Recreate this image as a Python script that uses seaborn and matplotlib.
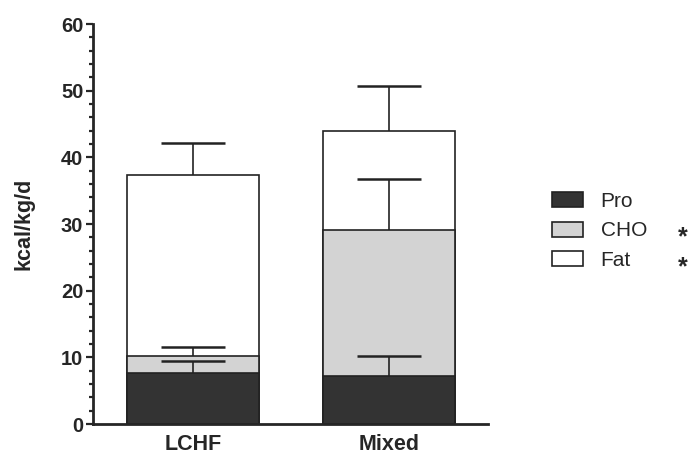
import matplotlib
matplotlib.use('Agg')
import matplotlib.pyplot as plt
from matplotlib.patches import Patch
from matplotlib.ticker import MultipleLocator
import numpy as np
import seaborn as sns

# Values (kcal/kg/d, mean + upper SEM)
diets = ['LCHF', 'Mixed']
components = ['Pro', 'CHO', 'Fat']
pro = [7.6, 7.2]
cho = [2.6, 21.9]
fat = [27.1, 14.8]
pro_err = [1.8, 3.0]
cho_err = [1.3, 7.6]
fat_err = [4.8, 6.8]
colors = ['#333333', '#d3d3d3', '#ffffff']
starred = ['CHO', 'Fat']

sns.set_style('ticks')
plt.rcParams['font.family'] = ['Liberation Sans', 'DejaVu Sans']

# cumulative tops for the stacked segments
top_pro = np.array(pro)
top_cho = top_pro + np.array(cho)
top_fat = top_cho + np.array(fat)
tops = [top_pro, top_cho, top_fat]
errs = [pro_err, cho_err, fat_err]

fig = plt.figure(figsize=(6.9, 4.57), dpi=100)
ax = fig.add_axes([93 / 690, 33 / 457, 395 / 690, 400 / 457])

# draw tallest first so lower segments sit on top
for top, col in zip(tops[::-1], colors[::-1]):
    sns.barplot(x=diets, y=top, color=col, saturation=1, width=0.67,
                edgecolor='#222222', linewidth=1.2, errorbar=None, ax=ax)

# upward-only error bars, drawn over the segments
xpos = np.arange(len(diets))
for top, err in zip(tops, errs):
    eb = ax.errorbar(xpos, top, yerr=[np.zeros(len(err)), err], fmt='none',
                     ecolor='#222222', elinewidth=1.2, capsize=23,
                     capthick=1.8, zorder=5)
    for cl in eb.lines[1]:
        if np.allclose(cl.get_ydata(), top):
            cl.set_visible(False)

ax.set_xlim(-0.51, 1.505)
ax.set_ylim(0, 60)
ax.yaxis.set_major_locator(MultipleLocator(10))
ax.yaxis.set_minor_locator(MultipleLocator(2))
ax.tick_params(axis='y', which='major', length=5, width=1.6, pad=2,
               labelsize=14.5)
ax.tick_params(axis='y', which='minor', length=3, width=1.6)
ax.tick_params(axis='x', length=0, pad=7, labelsize=15.5)
for lab in ax.get_xticklabels() + ax.get_yticklabels():
    lab.set_fontweight('bold')
ax.set_ylabel('kcal/kg/d', fontsize=15.5, fontweight='bold', labelpad=19)
ax.set_xlabel('')
sns.despine(ax=ax)
ax.spines['left'].set_linewidth(2)
ax.spines['bottom'].set_linewidth(2)

handles = [Patch(facecolor=c, edgecolor='#222222', linewidth=1.2)
           for c in colors]
leg = fig.legend(handles, components, loc='center left',
                 bbox_to_anchor=(552 / 690, 1 - 231 / 457), frameon=False,
                 fontsize=15, handlelength=1.49, handleheight=0.75,
                 handletextpad=0.85, labelspacing=0.5, borderpad=0,
                 borderaxespad=0)

row_y = {'Pro': 200, 'CHO': 230, 'Fat': 260}
for name in starred:
    fig.text(683 / 690, 1 - (row_y[name] + 14) / 457, '*', ha='center',
             va='baseline', fontsize=18, fontweight='bold')

fig.savefig('out.png', dpi=100)
